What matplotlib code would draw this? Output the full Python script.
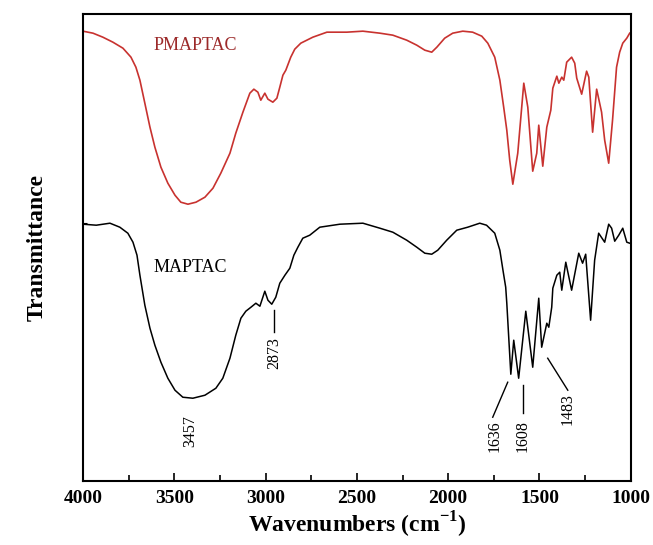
import matplotlib
matplotlib.use('Agg')
import matplotlib.pyplot as plt
from matplotlib.ticker import MultipleLocator

plt.rcParams['font.family'] = ['Liberation Serif', 'DejaVu Serif']
plt.rcParams['mathtext.fontset'] = 'custom'
plt.rcParams['mathtext.rm'] = 'Liberation Serif'
plt.rcParams['mathtext.bf'] = 'Liberation Serif:bold'

# transmittance in arbitrary units
pm_wave = [4000, 3945, 3891, 3836, 3781, 3737, 3710, 3688, 3661, 3633, 3606, 3573,
           3535, 3496, 3464, 3425, 3381, 3332, 3288, 3245, 3195, 3163, 3124, 3086,
           3064, 3042, 3026, 3004, 2987, 2960, 2938, 2922, 2905, 2889, 2862, 2840,
           2807, 2741, 2664, 2555, 2467, 2374, 2303, 2227, 2172, 2128, 2090, 2062,
           2019, 1975, 1920, 1866, 1816, 1783, 1745, 1717, 1696, 1679, 1663, 1646,
           1619, 1586, 1564, 1537, 1515, 1504, 1482, 1460, 1438, 1427,
           1405, 1394, 1378, 1367, 1351, 1324, 1307, 1296, 1269, 1242, 1230, 1209,
           1187, 1160, 1143, 1121, 1100, 1078, 1061, 1044, 1022, 1006]
pm_trans = [450, 448, 444, 439, 433, 424, 414, 401, 378, 354, 334, 314,
            298, 286, 279, 277, 279, 284, 293, 308, 328, 348, 369, 388,
            392, 389, 381, 388, 382, 379, 383, 394, 406, 411, 424, 432,
            438, 444, 449, 449, 450, 448, 446, 441, 436, 431, 429, 434,
            443, 448, 450, 449, 445, 438, 424, 401, 374, 351, 321, 297,
            328, 398, 374, 310, 328, 356, 315, 354, 371, 393,
            405, 398, 404, 401, 419, 424, 418, 403, 387, 410, 404, 349,
            392, 369, 341, 318, 361, 414, 429, 438, 443, 448]

m_wave = [4000, 3927, 3852, 3798, 3754, 3726, 3704, 3688, 3661, 3633, 3606, 3573,
          3535, 3496, 3453, 3398, 3332, 3272, 3234, 3195, 3163, 3135, 3108, 3080,
          3053, 3031, 3004, 2987, 2966, 2944, 2922, 2894, 2867, 2845, 2823, 2796,
          2758, 2703, 2593, 2467, 2374, 2303, 2227, 2172, 2128, 2090, 2057, 2008,
          1953, 1893, 1827, 1790, 1745, 1717, 1700, 1685, 1679, 1657, 1641, 1614,
          1575, 1537, 1504, 1488, 1460, 1449, 1433, 1427, 1405, 1389, 1378, 1356,
          1324, 1285, 1264, 1247, 1220, 1198, 1176, 1143, 1121, 1105, 1088, 1066,
          1044, 1022, 1006]
m_trans = [257, 256, 258, 254, 248, 239, 226, 206, 176, 153, 136, 119,
           103, 91, 84, 83, 86, 93, 103, 123, 146, 163, 170, 174,
           178, 175, 190, 181, 177, 184, 198, 206, 213, 226, 234, 243,
           246, 254, 257, 258, 253, 249, 241, 234, 228, 227, 231, 241,
           251, 254, 258, 256, 248, 231, 211, 194, 178, 107, 141, 103,
           170, 114, 183, 134, 158, 154, 174, 193, 206, 209, 191, 219,
           191, 228, 218, 227, 161, 221, 248, 239, 257, 253, 240, 246,
           253, 239, 238]

# peak labels: text, text x, text top, line start/end
peak_labels = ['3457', '2873', '1636', '1608', '1483']
label_x = [3414, 2955, 1745, 1592, 1345]
label_top = [66, 144, 61, 61, 88]
line_x0 = [None, 2955, 1674, 1592, 1455]
line_y0 = [None, 171, 99, 96, 123]
line_x1 = [None, 2955, 1756, 1592, 1345]
line_y1 = [None, 149, 64, 68, 91]

fig = plt.figure(figsize=(6.53, 5.45), dpi=100)
ax = fig.add_axes([0.127, 0.117, 0.839, 0.857])

ax.plot(pm_wave, pm_trans, color='#c8322f', lw=1.2)
ax.plot(m_wave, m_trans, color='black', lw=1.1)

for i in range(len(peak_labels)):
    if line_x0[i] is not None:
        ax.plot([line_x0[i], line_x1[i]], [line_y0[i], line_y1[i]], color='black', lw=1)
    ax.text(label_x[i], label_top[i], peak_labels[i], rotation=90, ha='center',
            va='top', fontsize=11.5)

ax.text(3611, 436, 'PMAPTAC', color='#9c2a2a', fontsize=13, va='center')
ax.text(3611, 214, 'MAPTAC', color='black', fontsize=13, va='center')

ax.set_xlim(4000, 1000)
ax.set_ylim(0, 467)
ax.xaxis.set_major_locator(MultipleLocator(500))
ax.xaxis.set_minor_locator(MultipleLocator(250))
ax.tick_params(axis='x', which='major', direction='in', length=6, width=1.2,
               labelsize=14, pad=6)
ax.tick_params(axis='x', which='minor', direction='in', length=4, width=1.2)
ax.set_yticks([258])
ax.set_yticklabels([])
ax.tick_params(axis='y', direction='in', length=3, width=0.8)
for lab in ax.get_xticklabels():
    lab.set_fontweight('bold')
for sp in ax.spines.values():
    sp.set_linewidth(1.5)

ax.set_xlabel(r'Wavenumbers (cm$^{\mathbf{-1}}$)', fontsize=17, fontweight='bold', labelpad=2)
ax.set_ylabel('Transmittance', fontsize=17, fontweight='bold', labelpad=22)

fig.savefig('out.png', dpi=100)
